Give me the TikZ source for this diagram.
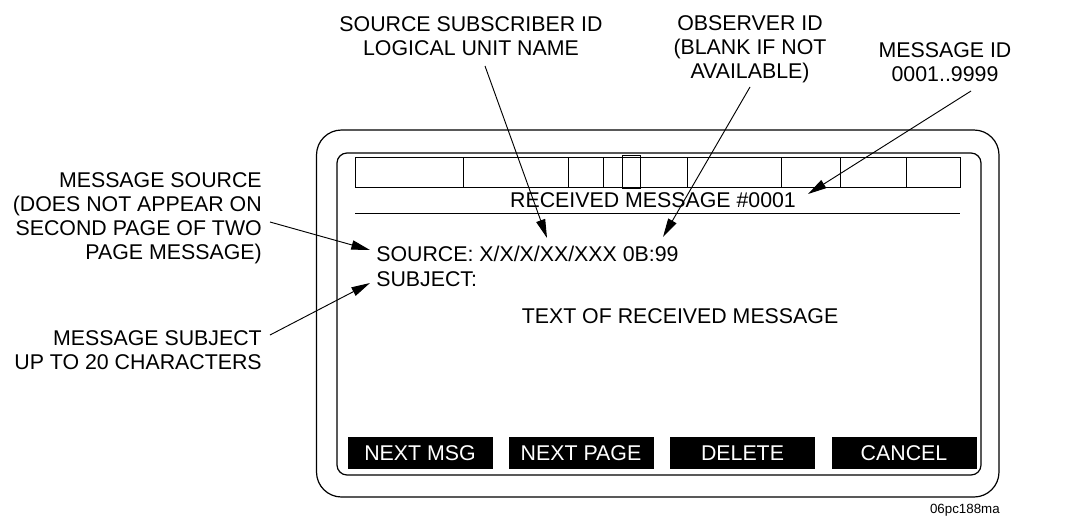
\documentclass[tikz,border=0pt]{standalone}
\usepackage{fontspec}
\setmainfont{Liberation Sans}
\usetikzlibrary{arrows.meta}
\begin{document}
\begin{tikzpicture}[x=0.75pt,y=-0.75pt,
  font=\fontsize{16}{18}\selectfont,
  lbl/.style={inner sep=0pt, align=center},
  rlbl/.style={inner sep=0pt, align=right},
  ptr/.style={-{Triangle[length=14pt,width=7pt]}, line width=0.7pt},
  btn/.style={fill=black, text=white, inner sep=0pt, minimum width=108.75pt, minimum height=24pt},
  frame/.style={line width=0.9pt},
  thin line/.style={line width=0.7pt}]
\useasboundingbox (0,0) rectangle (1067,522);

% frames
\draw[frame, rounded corners=18.75pt] (316.5,130) rectangle (999,497);
\draw[frame, rounded corners=7.5pt] (337,153) rectangle (981,475);

% status bar
\draw[thin line] (355,157) rectangle (960,187);
\foreach \x in {463,568,603,687,781,840,906} \draw[thin line] (\x,157) -- (\x,187);
\draw[thin line] (622,155.5) rectangle (640,188);

% screen texts
\node[anchor=base, inner sep=0pt] (rcv) at (653,207) {RECEIVED MESSAGE \#0001};
\draw[thin line] (355,213) -- (960,213);
\node[anchor=base west, inner sep=0pt] (src) at (376,261) {SOURCE: X/X/X/XX/XXX 0B:99};
\node[anchor=base west, inner sep=0pt] (subj) at (376,286) {SUBJECT:};
\node[anchor=base, inner sep=0pt] (txt) at (680,323) {TEXT OF RECEIVED MESSAGE};

% soft keys
\node[btn] (k1) at (420,453) {NEXT MSG};
\node[btn] (k2) at (581,453) {NEXT PAGE};
\node[btn] (k3) at (742.5,453) {DELETE};
\node[btn] (k4) at (904,453) {CANCEL};

% callout labels (base = baseline of last line)
\node[lbl, anchor=base] (ssid) at (471,55) {SOURCE SUBSCRIBER ID\\LOGICAL UNIT NAME};
\node[lbl, anchor=base] (obs) at (750,78) {OBSERVER ID\\(BLANK IF NOT\\AVAILABLE)};
\node[lbl, anchor=base] (mid) at (945,81) {MESSAGE ID\\0001..9999};
\node[rlbl, anchor=base east] (msrc) at (262,259) {MESSAGE SOURCE\\(DOES NOT APPEAR ON\\SECOND PAGE OF TWO\\PAGE MESSAGE)};
\node[rlbl, anchor=base east] (msub) at (262,369) {MESSAGE SUBJECT\\UP TO 20 CHARACTERS};

\node[anchor=base east, inner sep=0pt, font=\fontsize{10}{12}\selectfont] (code) at (1000,513) {06pc188ma};

% connector end points
\coordinate (s1) at (270,222); \coordinate (t1) at (370,250);
\coordinate (s2) at (270,335); \coordinate (t2) at (370,283);
\coordinate (s3) at (485,66);  \coordinate (t3) at (547,238);
\coordinate (s4) at (750,87);  \coordinate (t4) at (663,237);
\coordinate (s5) at (971,91);  \coordinate (t5) at (808,194);

\draw[ptr] (s1) -- (t1);
\draw[ptr] (s2) -- (t2);
\draw[ptr] (s3) -- (t3);
\draw[ptr] (s4) -- (t4);
\draw[ptr] (s5) -- (t5);
\end{tikzpicture}
\end{document}
